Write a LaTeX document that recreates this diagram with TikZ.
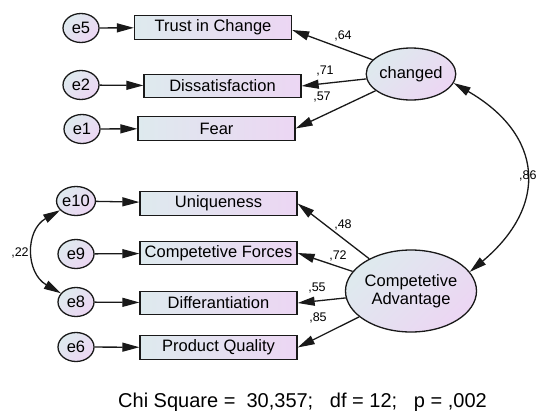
\documentclass[tikz,border=0pt]{standalone}
\usepackage{fontspec}
\setmainfont{Liberation Sans}
\usetikzlibrary{arrows.meta,shapes.geometric}
\definecolor{fillL}{RGB}{222,234,238}
\definecolor{fillR}{RGB}{236,214,243}
\definecolor{lineC}{RGB}{25,25,25}
\begin{document}
\begin{tikzpicture}[x=1pt,y=-1pt,
  obs/.style={draw=lineC, line width=1.3pt, rectangle, minimum width=157pt, minimum height=23.5pt,
    inner sep=0pt, left color=fillL, right color=fillR, font=\fontsize{16.5}{18}\selectfont},
  err/.style={draw=lineC, line width=1.3pt, ellipse, minimum width=36pt, minimum height=29pt,
    inner sep=0pt, left color=fillL, right color=fillR, shading angle=45, font=\fontsize{16.5}{18}\selectfont},
  lat/.style={draw=lineC, line width=1.3pt, ellipse, inner sep=0pt,
    left color=fillL, right color=fillR, shading angle=45, align=center, font=\fontsize{16.5}{17.5}\selectfont},
  arr/.style={arrows={-Triangle[length=17pt,width=9pt]}, line width=1.3pt, draw=lineC},
  cov/.style={arrows={Triangle[length=17pt,width=9pt]-Triangle[length=17pt,width=9pt]}, line width=1.3pt, draw=lineC},
  lab/.style={font=\fontsize{12.5}{14}\selectfont, inner sep=0pt}
]
\useasboundingbox (0,0) rectangle (538,410);
% error terms
\node[err] (e5) at (81,28) {e5};
\node[err] (e2) at (81,85) {e2};
\node[err] (e1) at (82,129) {e1};
\node[err] (e10) at (76,201) {e10};
\node[err] (e9) at (76,254) {e9};
\node[err] (e8) at (76,302) {e8};
\node[err] (e6) at (76,347) {e6};
% observed
\node[obs] (trust) at (213,27.5) {Trust in Change};
\node[obs] (dis) at (222.5,86) {Dissatisfaction};
\node[obs] (fear) at (216.5,128.5) {Fear};
\node[obs] (uniq) at (218.5,203.5) {Uniqueness};
\node[obs] (cf) at (218.5,253) {Competetive Forces};
\node[obs] (diff) at (218.5,303) {Differantiation};
\node[obs] (pq) at (218.5,347.5) {Product Quality};
% latent
\node[lat, minimum width=82pt, minimum height=52pt] (ch) at (411,74) {changed};
\node[lat, minimum width=113pt, minimum height=82pt] (ca) at (411,291) {Competetive\\Advantage};
% error arrows
\draw[arr] (e5) -- (trust);
\draw[arr] (e2) -- (dis);
\draw[arr] (e1) -- (fear);
\draw[arr] (e10) -- (uniq);
\draw[arr] (e9) -- (cf);
\draw[arr] (e8) -- (diff);
\draw[arr] (e6) -- (pq);
% loadings
\draw[arr] (ch) -- ([yshift=-2.5pt]trust.east);
\draw[arr] (ch) -- (dis.east);
\draw[arr] (ch) -- (fear.east);
\draw[arr] (ca) -- (uniq.east);
\draw[arr] (ca) -- (cf.east);
\draw[arr] (ca) -- (diff.east);
\draw[arr] (ca) -- (pq.east);
% covariances
\draw[cov] (e10.210) to[out=210,in=150,looseness=1.25] (e8.150);
\draw[cov] (ch.-12) to[out=-30,in=40,looseness=1.4] (ca.18);
% labels
\node[lab] (l64) at (343,36) {,64};
\node[lab] (l71) at (325,71) {,71};
\node[lab] (l57) at (322,97) {,57};
\node[lab] (l48) at (343,225) {,48};
\node[lab] (l72) at (338,256) {,72};
\node[lab] (l55) at (317,288) {,55};
\node[lab] (l85) at (318,318) {,85};
\node[lab] (l22) at (20,253) {,22};
\node[lab, anchor=west] (l86) at (519,176) {,86};
\node[font=\fontsize{20}{22}\selectfont, inner sep=0pt, anchor=base] (chi) at (302.5,407)
  {Chi Square =\ \ 30,357;\ \ \ df = 12;\ \ \ p = ,002};
\end{tikzpicture}
\end{document}
